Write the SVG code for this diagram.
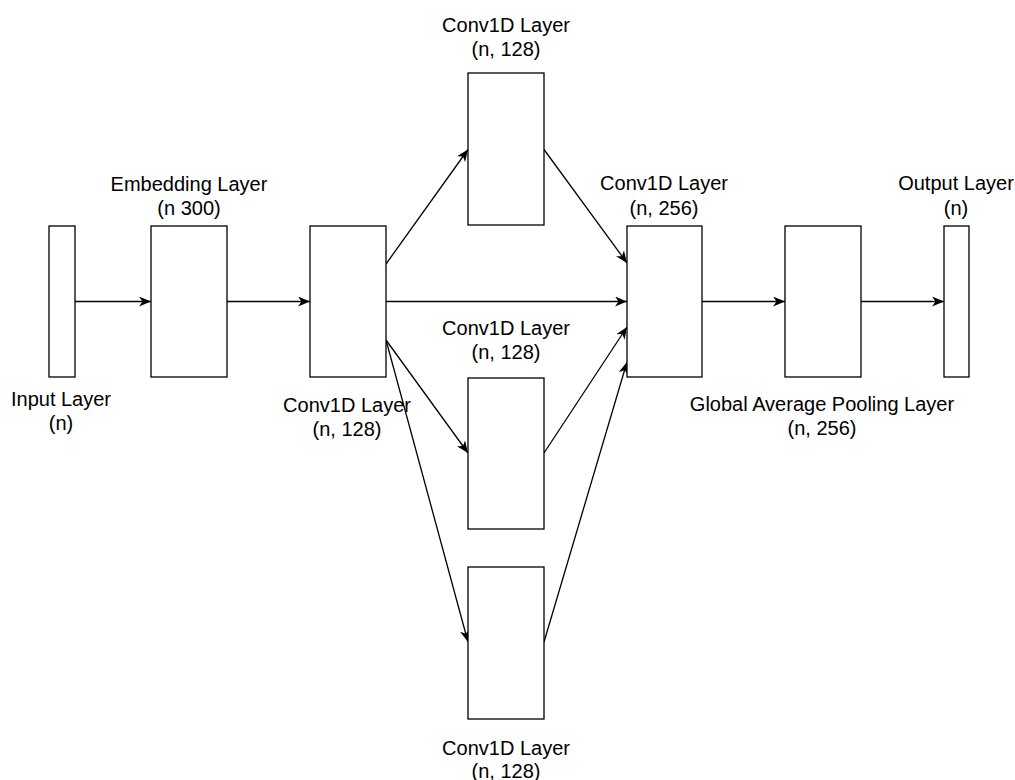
<svg xmlns="http://www.w3.org/2000/svg" width="1015" height="780" viewBox="0 0 1015 780">
<style>
  .box { fill: #fff; stroke: #000; stroke-width: 1.3; }
  .lbl { font-family: "Liberation Sans", Arial, Helvetica, sans-serif; font-size: 20px; fill: #000; text-anchor: middle; }
  .edge { fill: none; stroke: #000; stroke-width: 1.3; marker-end: url(#arrow); }
</style>
<defs>
  <marker id="arrow" viewBox="0 0 12 10" refX="12" refY="5" markerWidth="12" markerHeight="10" markerUnits="userSpaceOnUse" orient="auto">
    <path d="M0,0 L12,5 L0,10 L3.5,5 Z" fill="#000"/>
  </marker>
</defs>
<rect width="1015" height="780" fill="#fff"/>
<g id="connectors">
  <line class="edge" x1="75" y1="301.5" x2="151" y2="301.5"/>
  <line class="edge" x1="227" y1="301.5" x2="310" y2="301.5"/>
  <line class="edge" x1="386" y1="264" x2="468" y2="149.5"/>
  <line class="edge" x1="386" y1="301.5" x2="627" y2="301.5"/>
  <line class="edge" x1="386" y1="340" x2="468" y2="453"/>
  <line class="edge" x1="386" y1="340" x2="468" y2="642"/>
  <line class="edge" x1="544" y1="149.5" x2="627" y2="263"/>
  <line class="edge" x1="544" y1="453" x2="627" y2="327"/>
  <line class="edge" x1="544" y1="642" x2="627" y2="362"/>
  <line class="edge" x1="702" y1="301.5" x2="785" y2="301.5"/>
  <line class="edge" x1="861" y1="301.5" x2="944" y2="301.5"/>
</g>
<g id="input">
  <rect class="box" x="49" y="226" width="26" height="151"/>
  <text class="lbl" x="61" y="406">Input Layer</text>
  <text class="lbl" x="61" y="430">(n)</text>
</g>
<g id="embedding">
  <rect class="box" x="151" y="226" width="76" height="151"/>
  <text class="lbl" x="189" y="191">Embedding Layer</text>
  <text class="lbl" x="189" y="215">(n 300)</text>
</g>
<g id="conv1">
  <rect class="box" x="310" y="226" width="76" height="151"/>
  <text class="lbl" x="347" y="412">Conv1D Layer</text>
  <text class="lbl" x="347" y="436">(n, 128)</text>
</g>
<g id="conv_top">
  <rect class="box" x="468" y="73" width="76" height="152"/>
  <text class="lbl" x="506" y="32">Conv1D Layer</text>
  <text class="lbl" x="506" y="56">(n, 128)</text>
</g>
<g id="conv_mid">
  <rect class="box" x="468" y="378" width="76" height="151"/>
  <text class="lbl" x="506" y="335">Conv1D Layer</text>
  <text class="lbl" x="506" y="359">(n, 128)</text>
</g>
<g id="conv_bot">
  <rect class="box" x="468" y="567" width="76" height="152"/>
  <text class="lbl" x="506" y="755">Conv1D Layer</text>
  <text class="lbl" x="506" y="778">(n, 128)</text>
</g>
<g id="conv256">
  <rect class="box" x="627" y="226" width="75" height="151"/>
  <text class="lbl" x="664" y="190">Conv1D Layer</text>
  <text class="lbl" x="664" y="215">(n, 256)</text>
</g>
<g id="gap">
  <rect class="box" x="785" y="226" width="76" height="151"/>
  <text class="lbl" x="822" y="411">Global Average Pooling Layer</text>
  <text class="lbl" x="822" y="435">(n, 256)</text>
</g>
<g id="output">
  <rect class="box" x="944" y="226" width="25" height="151"/>
  <text class="lbl" x="956" y="190">Output Layer</text>
  <text class="lbl" x="956" y="215">(n)</text>
</g>
</svg>
